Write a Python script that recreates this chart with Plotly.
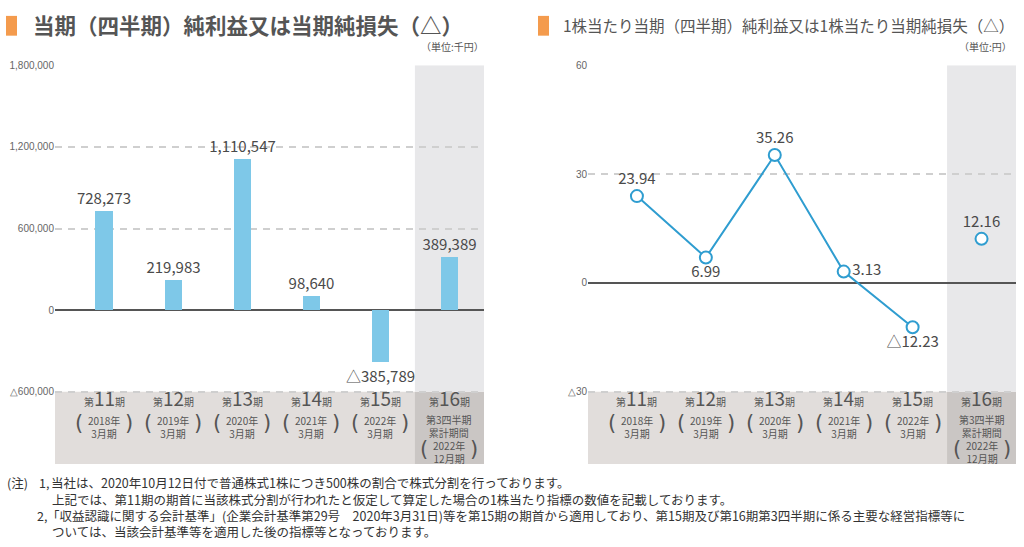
import plotly.graph_objects as go

W, H = 1024, 547

# ---------------- data ----------------
periods = ["11", "12", "13", "14", "15", "16"]
years = ["2018年", "2019年", "2020年", "2021年", "2022年", "2022年"]
months = ["3月期", "3月期", "3月期", "3月期", "3月期", "12月期"]
q3_label = "第3四半期<br>累計期間"
net_income = [728273, 219983, 1110547, 98640, -385789, 389389]
eps_values = [23.94, 6.99, 35.26, 3.13, -12.23]
eps_q3 = [12.16]
left_ticks = [-600000, 0, 600000, 1200000, 1800000]
left_ticktext = ["△600,000", "0", "600,000", "1,200,000", "1,800,000"]
right_ticks = [-30, 0, 30, 60]
right_ticktext = ["△30", "0", "30", "60"]

title_left = "当期（四半期）純利益又は当期純損失（△）"
title_right = "1株当たり当期（四半期）純利益又は1株当たり当期純損失（△）"
unit_left = "（単位:千円）"
unit_right = "（単位:円）"
note_head = "(注)"
note_nums = ["1,", "2,"]
notes = [
    "当社は、2020年10月12日付で普通株式1株につき500株の割合で株式分割を行っております。",
    "上記では、第11期の期首に当該株式分割が行われたと仮定して算定した場合の1株当たり指標の数値を記載しております。",
    "「収益認識に関する会計基準」(企業会計基準第29号　2020年3月31日)等を第15期の期首から適用しており、第15期及び第16期第3四半期に係る主要な経営指標等に",
    "ついては、当該会計基準等を適用した後の指標等となっております。",
]

# ---------------- style ----------------
BAR = "#7ec8e8"
LINE = "#2f9dd0"
TXT = "#4a4a4a"
GRID = "#cfcfcf"
BAND = "#e1dddb"
BAND16 = "#cac6c4"
COL16 = "#e8e8ea"
ORANGE = "#f49b4d"
JP = "Noto Sans CJK JP"
NARROW = "Liberation Sans Narrow, Liberation Sans, sans-serif"


def py(p):
    return 1 - p / H


def px(p):
    return p / W


cats = list(range(len(periods)))
xr = [-0.71, 5.5]
ydom = [py(463), py(60)]
l_bottom = -600000 - 73 / 82.5 * 600000
r_bottom = -30 - 73 / (330 / 90)

fig = go.Figure()


def fmt(v):
    s = f"{abs(v):,}"
    return ("△" + s) if v < 0 else s


fig.add_trace(go.Bar(
    x=cats, y=net_income, width=0.25, marker=dict(color=BAR, line=dict(width=0)),
    text=[fmt(v) for v in net_income], textposition="outside", constraintext="none",
    textfont=dict(size=15, color=TXT, family=JP), cliponaxis=False,
    xaxis="x", yaxis="y", showlegend=False,
))


def fmt2(v):
    s = f"{abs(v):.2f}"
    return ("△" + s) if v < 0 else s


eps_pos = ["top center", "bottom center", "top center", "middle right", "bottom center"]
fig.add_trace(go.Scatter(
    x=cats[:5], y=eps_values, mode="lines+markers+text",
    line=dict(color=LINE, width=2),
    marker=dict(size=12, color="white", line=dict(color=LINE, width=2)),
    text=[fmt2(v) for v in eps_values], textposition=eps_pos,
    textfont=dict(size=15, color=TXT, family=JP), cliponaxis=False,
    xaxis="x2", yaxis="y2", showlegend=False,
))
fig.add_trace(go.Scatter(
    x=[cats[5]], y=eps_q3, mode="markers+text",
    marker=dict(size=12, color="white", line=dict(color=LINE, width=2)),
    text=[fmt2(v) for v in eps_q3], textposition="top center",
    textfont=dict(size=15, color=TXT, family=JP), cliponaxis=False,
    xaxis="x2", yaxis="y2", showlegend=False,
))

ax_common = dict(showgrid=False, zeroline=False, showline=False, showticklabels=False,
                 range=xr, fixedrange=True)
yax_common = dict(showgrid=True, gridcolor=GRID, gridwidth=1.5, griddash="7px,6px",
                  zeroline=True, zerolinecolor="#555555", zerolinewidth=1.8,
                  showline=False, ticks="", tickfont=dict(size=10, color="#666666", family=NARROW),
                  domain=ydom, fixedrange=True)

fig.update_layout(
    width=W, height=H, margin=dict(l=0, r=0, t=0, b=0),
    paper_bgcolor="white", plot_bgcolor="rgba(0,0,0,0)",
    xaxis=dict(domain=[px(55), px(484)], anchor="y", **ax_common),
    xaxis2=dict(domain=[px(588), px(1016)], anchor="y2", **ax_common),
    yaxis=dict(range=[l_bottom, 1800000], tickvals=left_ticks, ticktext=left_ticktext,
               anchor="x", **yax_common),
    yaxis2=dict(range=[r_bottom, 60], tickvals=right_ticks, ticktext=right_ticktext,
                anchor="x2", **yax_common),
    bargap=0,
)

shapes = []
for xa, ya, bottom, top, lowgrid in [("x", "y", l_bottom, 1800000, -600000),
                                       ("x2", "y2", r_bottom, 60, -30)]:
    shapes.append(dict(type="rect", xref=xa + " domain", yref=ya, x0=0, x1=1, y0=bottom, y1=lowgrid,
                       fillcolor=BAND, line=dict(width=0), layer="below"))
    shapes.append(dict(type="rect", xref=xa, yref=ya, x0=4.5, x1=5.5, y0=bottom, y1=lowgrid,
                       fillcolor=BAND16, line=dict(width=0), layer="below"))
    shapes.append(dict(type="rect", xref=xa, yref=ya, x0=4.5, x1=5.5, y0=lowgrid, y1=top,
                       fillcolor=COL16, line=dict(width=0), layer="below"))
for x0 in (6, 538):
    shapes.append(dict(type="rect", xref="paper", yref="paper", x0=px(x0), x1=px(x0 + 11),
                       y0=py(30), y1=py(10), fillcolor=ORANGE, line=dict(width=0)))

ann = []
ann.append(dict(text="<b>" + title_left + "</b>", x=px(31), y=py(19), xref="paper", yref="paper",
                xanchor="left", yanchor="middle", showarrow=False,
                font=dict(size=21.5, color="#555555", family=JP)))
ann.append(dict(text=title_right, x=px(561), y=py(19), xref="paper", yref="paper",
                xanchor="left", yanchor="middle", showarrow=False,
                font=dict(size=15.5, color="#555555", family=JP)))
ann.append(dict(text=unit_left, x=px(486), y=py(41), xref="paper", yref="paper",
                xanchor="right", yanchor="middle", showarrow=False,
                font=dict(size=10, color="#555555", family=JP)))
ann.append(dict(text=unit_right, x=px(1014), y=py(41), xref="paper", yref="paper",
                xanchor="right", yanchor="middle", showarrow=False,
                font=dict(size=10, color="#555555", family=JP)))

CAT = "#555555"
for xa in ("x", "x2"):
    for i, p in enumerate(periods):
        ann.append(dict(text=f"<span style='font-size:10px'>第</span>{p}<span style='font-size:10px'>期</span>",
                        x=i, y=py(411), xref=xa, yref="paper", xanchor="center", yanchor="bottom",
                        showarrow=False, borderpad=0, font=dict(size=19, color=CAT, family=JP)))
        if i < 5:
            ytop = 410
        else:
            ann.append(dict(text=q3_label, x=i, y=py(409), xref=xa, yref="paper",
                            xanchor="center", yanchor="top", showarrow=False, borderpad=0,
                            font=dict(size=10, color=CAT, family=JP)))
            ytop = 436
        ann.append(dict(text=f"{years[i]}<br>{months[i]}", x=i, y=py(ytop), xref=xa, yref="paper",
                        xanchor="center", yanchor="top", showarrow=False, borderpad=0,
                        font=dict(size=10, color=CAT, family=JP)))
        pmid = ytop + 12
        for ch, sh in (("(", -25), (")", 25)):
            ann.append(dict(text=ch, x=i, y=py(pmid), xref=xa, yref="paper", xanchor="center",
                            yanchor="middle", xshift=sh, showarrow=False, borderpad=0,
                            font=dict(size=21, color=CAT, family="DejaVu Sans")))

NOTE_FONT = dict(size=12.5, color="#333333", family=JP)
note_y = [482, 498.5, 515, 531.5]
ann.append(dict(text=note_head, x=px(6), y=py(note_y[0]), xref="paper", yref="paper",
                xanchor="left", yanchor="middle", showarrow=False, borderpad=0, font=NOTE_FONT))
ann.append(dict(text=note_nums[0], x=px(38), y=py(note_y[0]), xref="paper", yref="paper",
                xanchor="left", yanchor="middle", showarrow=False, borderpad=0, font=NOTE_FONT))
ann.append(dict(text=note_nums[1], x=px(36), y=py(note_y[2]), xref="paper", yref="paper",
                xanchor="left", yanchor="middle", showarrow=False, borderpad=0, font=NOTE_FONT))
note_x = [50, 51, 46, 51]
for t, xx, yy in zip(notes, note_x, note_y):
    ann.append(dict(text=t, x=px(xx), y=py(yy), xref="paper", yref="paper", xanchor="left",
                    yanchor="middle", showarrow=False, borderpad=0, font=NOTE_FONT))

fig.update_layout(shapes=shapes, annotations=ann)
fig.write_html("out.html", config={"displayModeBar": False},
               post_script="document.body.style.margin='0';document.body.style.padding='0';")
